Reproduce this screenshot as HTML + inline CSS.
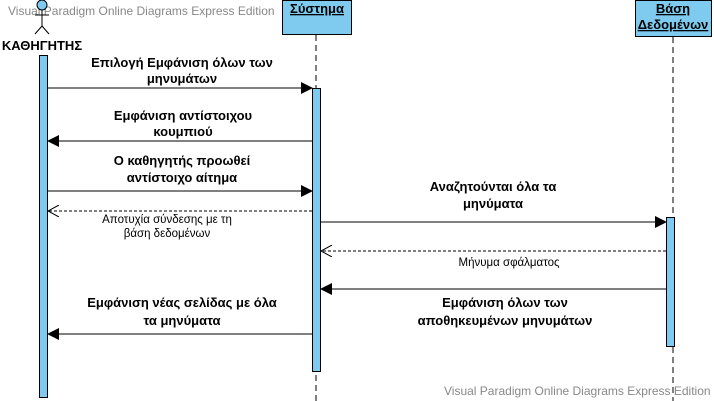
<!DOCTYPE html>
<html><head><meta charset="utf-8"><style>
html,body{margin:0;padding:0;background:#fff;}
svg{display:block;}
text{font-family:"Liberation Sans","DejaVu Sans",sans-serif;}
.b{font-weight:bold;font-size:13px;fill:#000;}
.s{font-size:11.5px;fill:#000;}
</style></head><body>
<svg width="714" height="401" viewBox="0 0 714 401" xmlns="http://www.w3.org/2000/svg">
<defs>
<marker id="f" markerWidth="12" markerHeight="12" refX="11" refY="6" orient="auto" markerUnits="userSpaceOnUse"><path d="M0,0 L12,6 L0,12 Z" fill="#000"/></marker>
<marker id="o" markerWidth="12" markerHeight="12" refX="11" refY="6" orient="auto" markerUnits="userSpaceOnUse"><path d="M0,0 L11,6 L0,12" fill="none" stroke="#000"/></marker>
</defs>
<line x1="316" y1="35" x2="316" y2="401" stroke="#000" stroke-dasharray="6,4"/>
<line x1="673" y1="37" x2="673" y2="401" stroke="#000" stroke-dasharray="6,4"/>
<text x="8" y="15" font-size="12" fill="#888">Visual Paradigm Online Diagrams Express Edition</text>
<text x="444" y="395" font-size="12" fill="#888">Visual Paradigm Online Diagrams Express Edition</text>
<circle cx="42" cy="5" r="5" fill="#7ecbef" stroke="#000"/>
<line x1="42" y1="10" x2="42" y2="26" stroke="#000"/>
<line x1="35" y1="15" x2="49" y2="15" stroke="#000"/>
<line x1="42" y1="26" x2="35" y2="34" stroke="#000"/>
<line x1="42" y1="26" x2="49" y2="34" stroke="#000"/>
<text x="42" y="50" text-anchor="middle" class="b" font-size="14">ΚΑΘΗΓΗΤΗΣ</text>
<rect x="282.5" y="0.5" width="69" height="34" fill="#7ecbef" stroke="#000"/>
<text x="317" y="13" text-anchor="middle" class="b" text-decoration="underline">Σύστημα</text>
<rect x="635.5" y="0.5" width="76" height="36" fill="#7ecbef" stroke="#000"/>
<text x="673" y="13" text-anchor="middle" class="b" text-decoration="underline">Βάση</text>
<text x="673" y="29" text-anchor="middle" class="b" text-decoration="underline">Δεδομένων</text>
<rect x="39.5" y="55.5" width="8" height="342" fill="#7ecbef" stroke="#000"/>
<rect x="312.5" y="88.5" width="8" height="283" fill="#7ecbef" stroke="#000"/>
<rect x="666.5" y="217.5" width="8" height="129" fill="#7ecbef" stroke="#000"/>
<line x1="48" y1="88" x2="312" y2="88" stroke="#000" marker-end="url(#f)"/>
<text x="182" y="67" text-anchor="middle" class="b">Επιλογή Εμφάνιση όλων των</text>
<text x="182" y="83" text-anchor="middle" class="b">μηνυμάτων</text>
<line x1="312" y1="141" x2="48" y2="141" stroke="#000" marker-end="url(#f)"/>
<text x="183" y="120" text-anchor="middle" class="b">Εμφάνιση αντίστοιχου</text>
<text x="183" y="136" text-anchor="middle" class="b">κουμπιού</text>
<line x1="48" y1="191" x2="312" y2="191" stroke="#000" marker-end="url(#f)"/>
<text x="182" y="165" text-anchor="middle" class="b">Ο καθηγητής προωθεί</text>
<text x="182" y="182" text-anchor="middle" class="b">αντίστοιχο αίτημα</text>
<line x1="312" y1="211" x2="48" y2="211" stroke="#000" stroke-dasharray="3,2" marker-end="url(#o)"/>
<text x="167" y="223" text-anchor="middle" class="s">Αποτυχία σύνδεσης με τη</text>
<text x="167" y="237" text-anchor="middle" class="s">βάση δεδομένων</text>
<line x1="321" y1="222" x2="666" y2="222" stroke="#000" marker-end="url(#f)"/>
<text x="493" y="191" text-anchor="middle" class="b">Αναζητούνται όλα τα</text>
<text x="493" y="208" text-anchor="middle" class="b">μηνύματα</text>
<line x1="666" y1="251" x2="321" y2="251" stroke="#000" stroke-dasharray="3,2" marker-end="url(#o)"/>
<text x="509" y="266" text-anchor="middle" class="s">Μήνυμα σφάλματος</text>
<line x1="666" y1="289" x2="321" y2="289" stroke="#000" marker-end="url(#f)"/>
<text x="505" y="307" text-anchor="middle" class="b">Εμφάνιση όλων των</text>
<text x="505" y="325" text-anchor="middle" class="b">αποθηκευμένων μηνυμάτων</text>
<line x1="312" y1="334" x2="48" y2="334" stroke="#000" marker-end="url(#f)"/>
<text x="182" y="307" text-anchor="middle" class="b">Εμφάνιση νέας σελίδας με όλα</text>
<text x="182" y="325" text-anchor="middle" class="b">τα μηνύματα</text>
</svg>
</body></html>
